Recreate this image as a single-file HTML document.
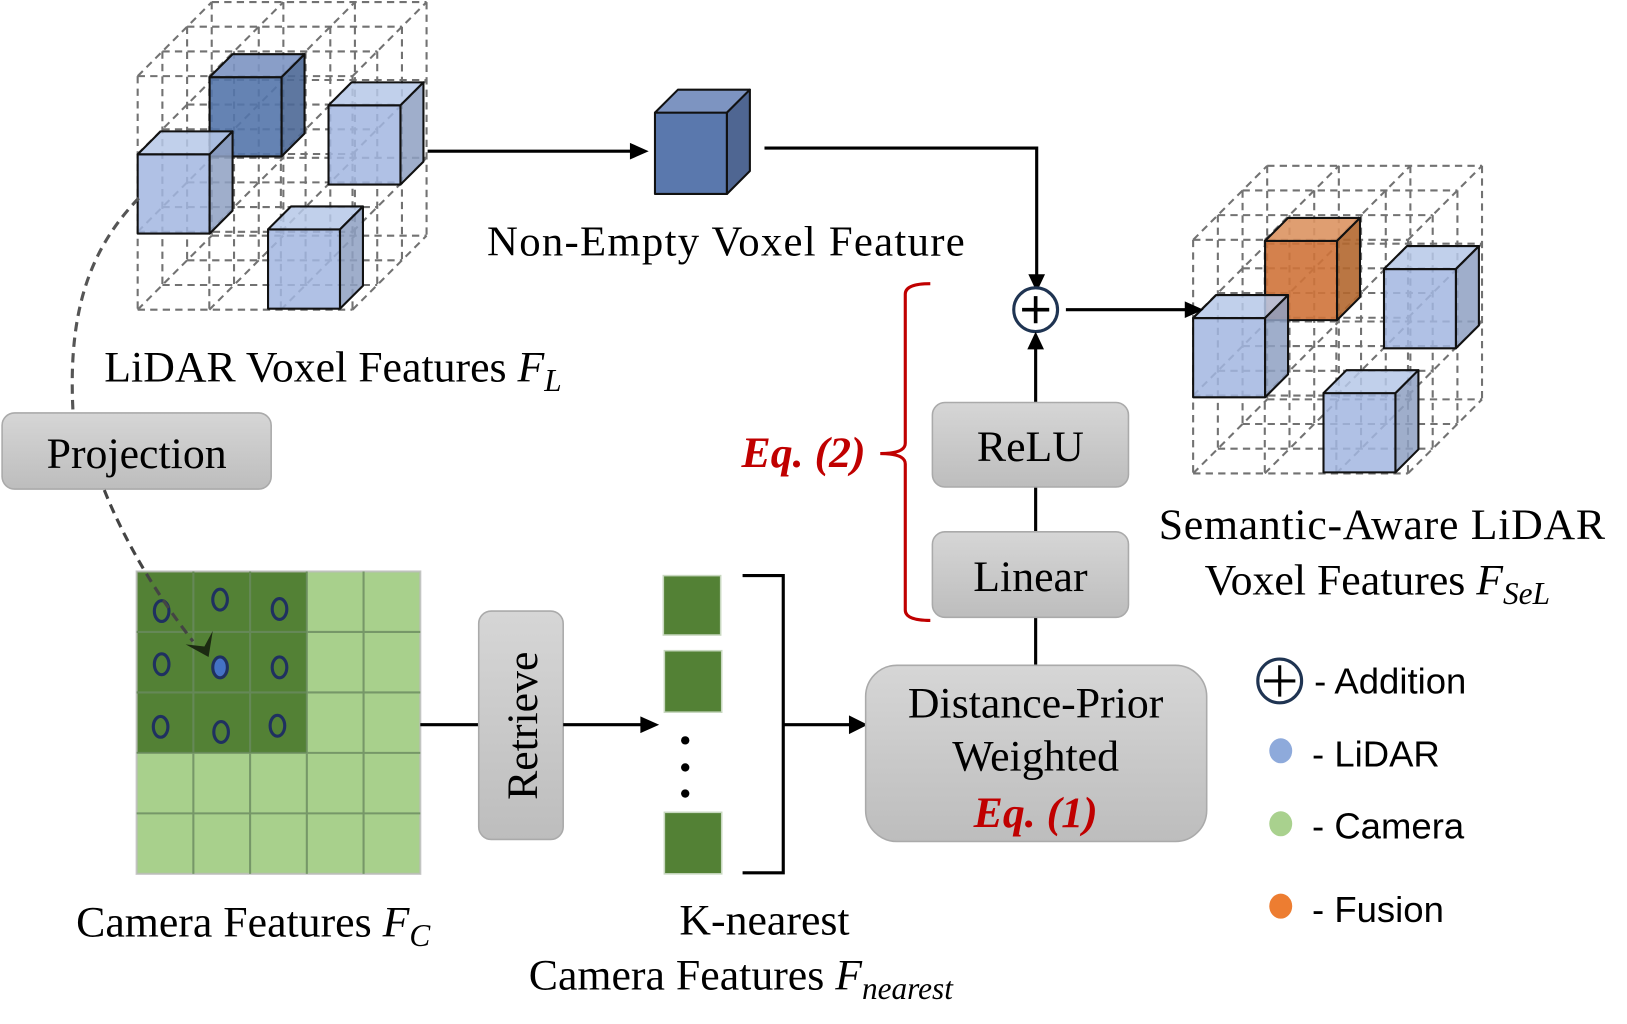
<!DOCTYPE html>
<html><head><meta charset="utf-8"><style>html,body{margin:0;padding:0;background:#fff}svg{display:block}</style></head>
<body>
<svg width="1627" height="1024" viewBox="0 0 1560 982" preserveAspectRatio="none" xmlns="http://www.w3.org/2000/svg" font-family="'Liberation Serif', serif">
<defs>
<linearGradient id="gb" x1="0" y1="0" x2="0" y2="1"><stop offset="0" stop-color="#d6d6d6"/><stop offset="1" stop-color="#bdbdbd"/></linearGradient>
<g id="grid" fill="none" stroke="#444" stroke-width="2" stroke-dasharray="7 5" opacity="0.75">
<path d="M132,73H338M132,147.7H338M132,222.3H338M132,297H338M132,73V297M200.7,73V297M269.3,73V297M338,73V297"/>
<path d="M155.7,49.3H361.7M155.7,124H361.7M155.7,198.6H361.7M155.7,273.3H361.7M155.7,49.3V273.3M224.4,49.3V273.3M293,49.3V273.3M361.7,49.3V273.3"/>
<path d="M179.4,25.6H385.4M179.4,100.3H385.4M179.4,174.9H385.4M179.4,249.6H385.4M179.4,25.6V249.6M248.1,25.6V249.6M316.7,25.6V249.6M385.4,25.6V249.6"/>
<path d="M203,2H409M203,76.7H409M203,151.3H409M203,226H409M203,2V226M271.7,2V226M340.3,2V226M409,2V226"/>
<path d="M132,73l71,-71M200.7,73l71,-71M269.3,73l71,-71M338,73l71,-71M132,147.7l71,-71M200.7,147.7l71,-71M269.3,147.7l71,-71M338,147.7l71,-71M132,222.3l71,-71M200.7,222.3l71,-71M269.3,222.3l71,-71M338,222.3l71,-71M132,297l71,-71M200.7,297l71,-71M269.3,297l71,-71M338,297l71,-71"/>
</g>
<g id="lc" stroke="#111" stroke-width="2" stroke-linejoin="round" fill-opacity="0.85">
<rect x="0" y="0" width="69" height="76" fill="#a2b6e0"/>
<path d="M0,0 L22,-22 L91,-22 L69,0 Z" fill="#b6c8e8"/>
<path d="M69,0 L91,-22 L91,54 L69,76 Z" fill="#8ea0c2"/>
</g>
<g id="dc" stroke="#111" stroke-width="2" stroke-linejoin="round" fill-opacity="0.9">
<rect x="0" y="0" width="69" height="76" fill="#5475ab"/>
<path d="M0,0 L22,-22 L91,-22 L69,0 Z" fill="#7c94c2"/>
<path d="M69,0 L91,-22 L91,54 L69,76 Z" fill="#4d6896"/>
</g>
<g id="oc" stroke="#111" stroke-width="2" stroke-linejoin="round" fill-opacity="0.9">
<rect x="0" y="0" width="69" height="76" fill="#cf733a"/>
<path d="M0,0 L22,-22 L91,-22 L69,0 Z" fill="#dc9462"/>
<path d="M69,0 L91,-22 L91,54 L69,76 Z" fill="#b3672f"/>
</g>
<filter id="sh"><feGaussianBlur stdDeviation="3"/></filter>
</defs>

<use href="#grid"/>
<use href="#dc" x="201" y="74"/>
<use href="#lc" x="132" y="148"/>
<use href="#lc" x="315" y="101"/>
<use href="#lc" x="257" y="220"/>

<g transform="translate(1012,157)">
<use href="#grid"/>
<use href="#oc" x="201" y="74"/>
<use href="#lc" x="132" y="148"/>
<use href="#lc" x="315" y="101"/>
<use href="#lc" x="257" y="220"/>
</g>

<line x1="410" y1="150" x2="615" y2="150" stroke="#bbb" stroke-width="5" filter="url(#sh)"/>
<line x1="410" y1="145" x2="608" y2="145" stroke="#000" stroke-width="3"/>
<path d="M604,137 L622,145 L604,153 Z"/>
<g stroke="#111" stroke-width="2" stroke-linejoin="round">
<rect x="628" y="108" width="69" height="78" fill="#5a78ad"/>
<path d="M628,108 L650,86 L719,86 L697,108 Z" fill="#7d94c1"/>
<path d="M697,108 L719,86 L719,164 L697,186 Z" fill="#4f6692"/>
</g>
<text x="696" y="245" font-size="41" text-anchor="middle" textLength="458">Non-Empty Voxel Feature</text>

<path d="M733,142 H994 V276" fill="none" stroke="#000" stroke-width="3"/>
<path d="M986,263 L994,280 L1002,263 Z"/>
<circle cx="993" cy="297" r="21" fill="#fff" stroke="#1f3452" stroke-width="3"/>
<path d="M980,297 H1006 M993,284 V310" stroke="#000" stroke-width="3.5"/>
<line x1="1022" y1="297" x2="1140" y2="297" stroke="#000" stroke-width="3"/>
<path d="M1136,289 L1154,297 L1136,305 Z"/>

<line x1="993" y1="330" x2="993" y2="638" stroke="#000" stroke-width="3"/>
<path d="M985,335 L993,318 L1001,335 Z"/>
<rect x="894" y="386" width="188" height="81" rx="12" fill="url(#gb)" stroke="#aaa" stroke-width="1.5"/>
<text x="988" y="442" font-size="42" text-anchor="middle">ReLU</text>
<rect x="894" y="510" width="188" height="82" rx="12" fill="url(#gb)" stroke="#aaa" stroke-width="1.5"/>
<text x="988" y="567" font-size="42" text-anchor="middle">Linear</text>

<path d="M892,272 Q868,272 868,282 V425 Q868,435 844,435 Q868,435 868,445 V585 Q868,595 892,595" fill="none" stroke="#c00000" stroke-width="3"/>
<text x="830" y="448" font-size="42" font-weight="bold" font-style="italic" fill="#c00000" text-anchor="end">Eq. (2)</text>

<text x="1325" y="517" font-size="42" text-anchor="middle" textLength="428">Semantic-Aware LiDAR</text>
<text x="1155" y="570" font-size="42">Voxel Features <tspan font-style="italic">F</tspan><tspan font-style="italic" font-size="30" dy="9">SeL</tspan></text>

<text x="100" y="366" font-size="42">LiDAR Voxel Features <tspan font-style="italic">F</tspan><tspan font-style="italic" font-size="30" dy="9">L</tspan></text>

<path d="M133,190 C85,240 65,300 70,395" fill="none" stroke="#555" stroke-width="3" stroke-dasharray="9 6"/>
<rect x="2" y="396" width="258" height="73" rx="12" fill="url(#gb)" stroke="#aaa" stroke-width="1.5"/>
<text x="131" y="449" font-size="42" text-anchor="middle">Projection</text>

<rect x="131" y="548" width="272" height="290" fill="#a8d08c"/>
<rect x="131" y="548" width="163" height="174" fill="#538135"/>
<g stroke="#6a8a60" stroke-width="2" fill="none" opacity="0.8">
<rect x="131" y="548" width="272" height="290" stroke="#bbb"/>
<path d="M185.4,548V838M239.8,548V838M294.2,548V838M348.6,548V838M131,606H403M131,664H403M131,722H403M131,780H403"/>
</g>
<g fill="none" stroke="#1f3060" stroke-width="3">
<ellipse cx="155" cy="586" rx="7" ry="10"/><ellipse cx="211" cy="575" rx="7" ry="10"/><ellipse cx="268" cy="584" rx="7" ry="10"/>
<ellipse cx="155" cy="637" rx="7" ry="10"/><ellipse cx="268" cy="640" rx="7" ry="10"/>
<ellipse cx="154" cy="697" rx="7" ry="10"/><ellipse cx="212" cy="702" rx="7" ry="10"/><ellipse cx="266" cy="696" rx="7" ry="10"/>
</g>
<ellipse cx="211" cy="640" rx="7" ry="10" fill="#4472c4" stroke="#1f3060" stroke-width="3"/>
<path d="M100,470 C120,520 150,570 185,615" fill="none" stroke="#444" stroke-width="3" stroke-dasharray="9 6"/>
<path d="M178,618 L200,630 L204,605 L196,620 Z" fill="#1c2a12"/>

<text x="73" y="898" font-size="42">Camera Features <tspan font-style="italic">F</tspan><tspan font-style="italic" font-size="30" dy="9">C</tspan></text>

<line x1="403" y1="700" x2="630" y2="700" stroke="#ccc" stroke-width="5" filter="url(#sh)"/>
<line x1="403" y1="695" x2="460" y2="695" stroke="#000" stroke-width="3"/>
<rect x="459" y="586" width="81" height="219" rx="12" fill="url(#gb)" stroke="#aaa" stroke-width="1.5"/>
<text transform="translate(515,696) rotate(-90)" font-size="42" text-anchor="middle">Retrieve</text>
<line x1="540" y1="695" x2="618" y2="695" stroke="#000" stroke-width="3"/>
<path d="M614,687 L632,695 L614,703 Z"/>

<g fill="#538135" stroke="#c8d8c0" stroke-width="1.5">
<rect x="636" y="552" width="55" height="57"/>
<rect x="637" y="624" width="55" height="59"/>
<rect x="637" y="779" width="55" height="59"/>
</g>
<circle cx="657" cy="710" r="4"/><circle cx="657" cy="736" r="4"/><circle cx="657" cy="761" r="4"/>
<path d="M712,552 H751 V837 H712" fill="none" stroke="#000" stroke-width="3"/>
<line x1="751" y1="695" x2="818" y2="695" stroke="#000" stroke-width="3"/>
<path d="M814,686 L832,695 L814,704 Z"/>
<text x="733" y="896" font-size="42" text-anchor="middle">K-nearest</text>
<text x="507" y="949" font-size="42">Camera Features <tspan font-style="italic">F</tspan><tspan font-style="italic" font-size="30" dy="9">nearest</tspan></text>

<rect x="830" y="638" width="327" height="169" rx="30" fill="url(#gb)" stroke="#aaa" stroke-width="1.5"/>
<text x="993" y="688" font-size="42" text-anchor="middle">Distance-Prior</text>
<text x="993" y="739" font-size="42" text-anchor="middle">Weighted</text>
<text x="993" y="793" font-size="42" font-weight="bold" font-style="italic" fill="#c00000" text-anchor="middle">Eq. (1)</text>

<g font-family="'Liberation Sans', sans-serif" font-size="35">
<circle cx="1227" cy="653" r="21" fill="#fff" stroke="#1f3452" stroke-width="3"/>
<path d="M1212,653 H1242 M1227,638 V668" stroke="#000" stroke-width="3"/>
<text x="1260" y="665">- Addition</text>
<ellipse cx="1228" cy="720" rx="11" ry="12" fill="#8eaadb"/>
<text x="1258" y="735">- LiDAR</text>
<ellipse cx="1228" cy="790" rx="11" ry="12" fill="#a9d18e"/>
<text x="1258" y="804">- Camera</text>
<ellipse cx="1228" cy="869" rx="11" ry="12" fill="#ed7d31"/>
<text x="1258" y="884">- Fusion</text>
</g>
</svg>
</body></html>
